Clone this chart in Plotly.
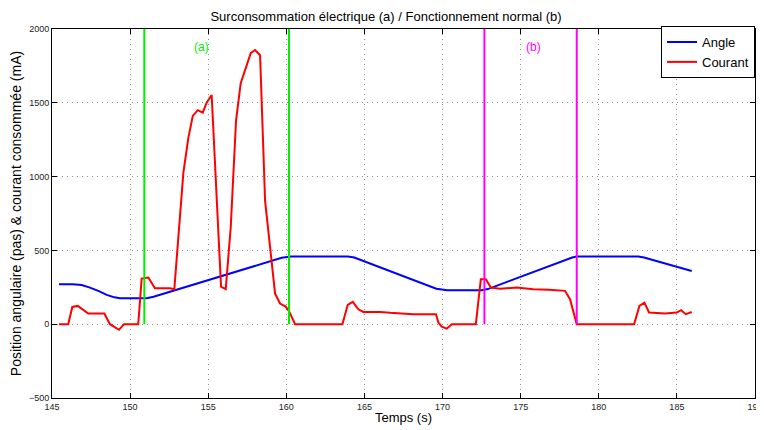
import plotly.graph_objects as go

# ── Data ──────────────────────────────────────────────────────────────────────
angle_t = [145.45, 146.34, 146.9, 147.43, 148.0, 148.5, 149.0, 149.35, 151.06, 151.5,
           159.7, 160.03, 160.3, 163.95, 164.35, 169.6, 170.03, 170.3, 172.51, 172.9,
           178.3, 178.59, 182.52, 182.9, 185.95]
angle_v = [271, 271, 265, 248, 224, 199, 182, 176, 176, 186,
           450, 456, 458, 458, 452, 240, 231, 230, 230, 238,
           452, 458, 458, 452, 361]

courant_t = [145.45, 146.04, 146.30, 146.65, 147.32, 148.35, 148.71, 149.29, 149.61, 150.52,
             150.74, 151.17, 151.59, 152.55, 152.83, 153.41, 153.73, 154.01, 154.33, 154.65,
             154.90, 155.22, 155.82, 156.12, 156.44, 156.78, 157.08, 157.40, 157.72, 158.00,
             158.32, 158.64, 159.28, 159.60, 159.96, 160.19, 160.56, 163.59, 163.93, 164.25,
             164.61, 164.93, 166.00, 166.64, 168.13, 169.58, 169.73, 169.95, 170.27, 170.59,
             172.13, 172.45, 172.77, 173.09, 173.68, 174.75, 175.81, 176.8, 177.84, 178.16,
             178.59, 182.26, 182.60, 182.92, 183.22, 184.24, 184.99, 185.27, 185.57, 185.95]
courant_v = [0, 0, 117, 124, 72, 72, 0, -38, 0, 0,
             309, 316, 244, 244, 237, 1027, 1264, 1411, 1450, 1434,
             1501, 1553, 255, 237, 655, 1377, 1633, 1728, 1836, 1858,
             1822, 835, 207, 140, 119, 85, 0, 0, 131, 151,
             101, 83, 83, 77, 68, 68, 11, -16, -30, 0,
             0, 305, 305, 248, 241, 248, 237, 234, 226, 169,
             0, 0, 124, 146, 79, 72, 79, 95, 68, 83]

# phase markers (s)
marks_a = [150.91, 160.17]
marks_b = [172.68, 178.59]
mark_top = 2000
labels = ["(a)", "(b)"]
label_t = [154.55, 175.85]
label_y = 1880

GREEN = "#00ee00"
MAGENTA = "#ff00ff"

fig = go.Figure()

fig.add_trace(go.Scatter(x=angle_t, y=angle_v, mode="lines", name="Angle",
                         line=dict(color="#0000ff", width=2)))
fig.add_trace(go.Scatter(x=courant_t, y=courant_v, mode="lines", name="Courant",
                         line=dict(color="#ff0000", width=2)))

# vertical phase lines
for t in marks_a:
    fig.add_trace(go.Scatter(x=[t, t], y=[0, mark_top], mode="lines", showlegend=False,
                             line=dict(color=GREEN, width=2), hoverinfo="skip"))
for t in marks_b:
    fig.add_trace(go.Scatter(x=[t, t], y=[0, mark_top], mode="lines", showlegend=False,
                             line=dict(color=MAGENTA, width=2), hoverinfo="skip"))

for lab, t, col in zip(labels, label_t, [GREEN, MAGENTA]):
    fig.add_annotation(x=t, y=label_y, text=lab, showarrow=False,
                       font=dict(color=col, size=12))

axis_common = dict(
    showline=True, linecolor="black", linewidth=1, mirror="ticks",
    ticks="inside", ticklen=5, tickcolor="black",
    showgrid=True, gridcolor="#8c8c8c", griddash="1px,4px", gridwidth=1,
    zeroline=False, tickfont=dict(size=9, color="#222"), automargin=False,
    ticklabeloverflow="allow",
)

# page body has an 8px margin, so the figure is sized/offset to compensate
fig.update_layout(
    width=756, height=422,
    paper_bgcolor="white", plot_bgcolor="white",
    font=dict(family="Liberation Sans, Arial, sans-serif", color="black"),
    margin=dict(l=44, r=9, t=21, b=32),
    title=dict(text="Surconsommation électrique (a) / Fonctionnement normal (b)",
               x=0.5, xanchor="center", y=0.979, yanchor="middle",
               font=dict(size=13, color="black")),
    xaxis=dict(range=[145, 190], tickmode="linear", tick0=145, dtick=5,
               title=dict(text="Temps (s)", font=dict(size=13), standoff=2),
               **axis_common),
    yaxis=dict(range=[-500, 2000], tickmode="linear", tick0=-500, dtick=500,
               title=dict(text="Position angulaire (pas) & courant consommée (mA)",
                          font=dict(size=14), standoff=4),
               **axis_common),
    legend=dict(x=1.0, xanchor="right", y=1.008, yanchor="top",
                bordercolor="black", borderwidth=1, bgcolor="white",
                font=dict(size=13), tracegroupgap=0,
                itemwidth=30),
    showlegend=True,
)

fig.write_html("out.html")
